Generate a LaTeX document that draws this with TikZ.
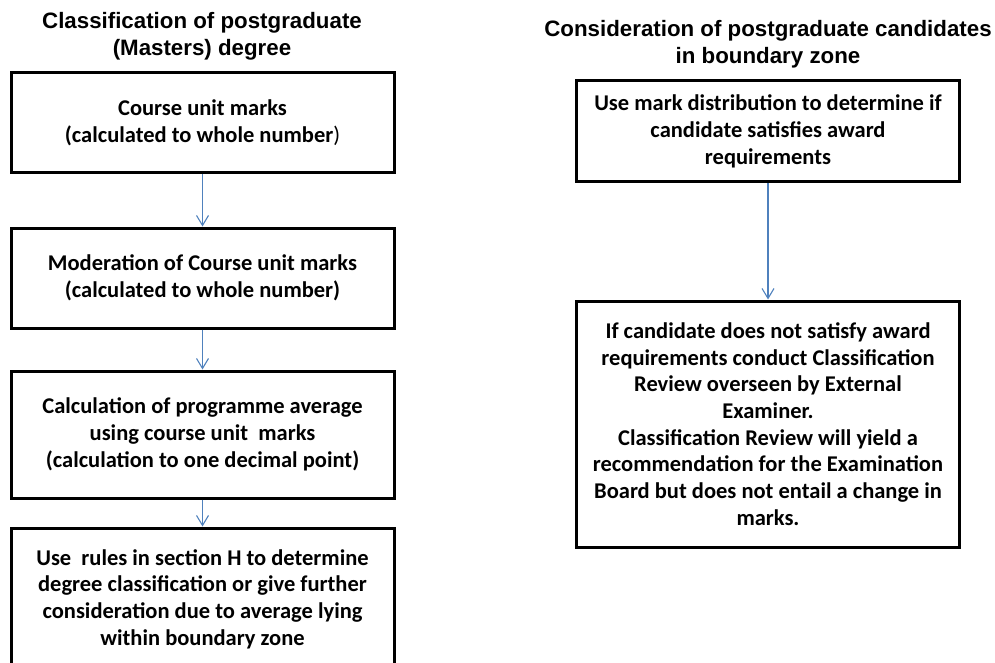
\documentclass[tikz,border=0pt]{standalone}
\usepackage{fontspec}
\setmainfont{Carlito}
\newfontfamily\headfont{Liberation Sans}
\usetikzlibrary{arrows.meta}
\definecolor{officeblue}{RGB}{79,129,189}
\begin{document}
\begin{tikzpicture}[x=1pt,y=-1pt,
  stagebox/.style={draw,line width=3pt,align=center,minimum width=383pt,
    font=\fontsize{22.5}{26.7}\selectfont\bfseries},
  heading/.style={align=center,font=\headfont\fontsize{22.3}{27}\selectfont\bfseries},
  flowarrow/.style={draw=officeblue,line width=1.1pt,-{Straight Barb[length=10pt,width=12pt]}}]
\clip (0,0) rectangle (995,663); % page size of the reference

\node[heading] (lefthead) at (202,36) {Classification of postgraduate\\(Masters) degree};
\node[heading] (righthead) at (768,44) {Consideration of postgraduate candidates\\in boundary zone};

% left column
\node[stagebox,minimum height=100pt] (marks) at (202.5,123)
  {Course unit marks\\(calculated to whole number\textmd{)}};
\node[stagebox,minimum height=100pt] (moder) at (202.5,278)
  {Moderation of Course unit marks\\(calculated to whole number)};
\node[stagebox,minimum height=127pt] (avg) at (202.5,434.5)
  {Calculation of programme average\\using course unit\ \ marks\\(calculation to one decimal point)};
\node[stagebox,minimum height=142pt] (rules) at (202.5,599)
  {Use\ \ rules in section H to determine\\degree classification or give further\\consideration due to average lying\\within boundary zone};

\foreach \a/\b in {marks/moder,moder/avg,avg/rules}
\draw[flowarrow] (\a.south) -- (\b.north);

% right column
\node[stagebox,minimum height=101pt] (distrib) at (768,131.5)
  {Use mark distribution to determine if\\candidate satisfies award\\requirements};
\node[stagebox,minimum height=246pt] (review) at (768,424)
  {If candidate does not satisfy award\\requirements conduct Classification\\Review overseen by External\\Examiner.\\Classification Review will yield a\\recommendation for the Examination\\Board but does not entail a change in\\marks.};

\draw[flowarrow] (distrib.south) -- (review.north);
\end{tikzpicture}
\end{document}
